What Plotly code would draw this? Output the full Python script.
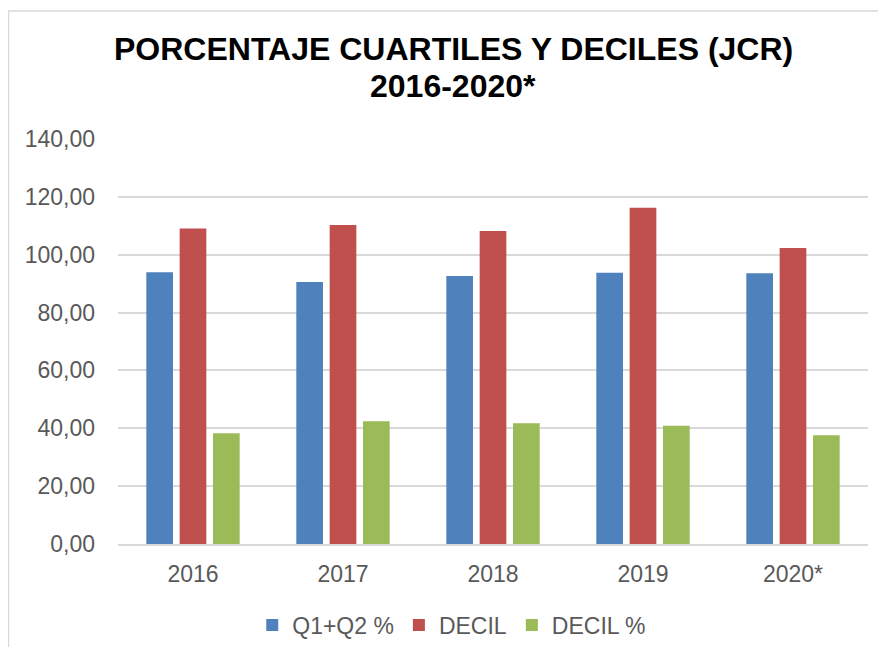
import plotly.graph_objects as go

years = ["2016", "2017", "2018", "2019", "2020*"]
q1q2_pct = [93.9, 90.6, 92.6, 93.8, 93.6]
decil = [109.1, 110.3, 108.2, 116.2, 102.3]
decil_pct = [38.3, 42.4, 41.7, 40.9, 37.6]
series_names = ["Q1+Q2 %", "DECIL", "DECIL %"]
colors = ["#4F81BD", "#C0504D", "#9BBB59"]
y_ticks = [0, 20, 40, 60, 80, 100, 120, 140]
title_lines = ["PORCENTAJE CUARTILES Y DECILES (JCR)", "2016-2020*"]

fig = go.Figure()
for name, vals, col in zip(series_names, [q1q2_pct, decil, decil_pct], colors):
    fig.add_trace(go.Bar(x=years, y=vals, name=name, marker_color=col,
                         marker_line_width=0))

font_family = "Liberation Sans, Arial, sans-serif"
W, H = 870, 639
L, R, T, B = 110, 10, 131, 103
pw, ph = W - L - R, H - T - B

fig.update_layout(
    width=W, height=H,
    margin=dict(l=L, r=R, t=T, b=B, autoexpand=False),
    paper_bgcolor="white", plot_bgcolor="white",
    separators=",.",
    barmode="group", bargap=0.333, bargroupgap=0.2,
    font=dict(family=font_family, size=23, color="#595959"),
    legend=dict(orientation="h", xanchor="center", x=0.445,
                yref="container", yanchor="middle", y=(H - 617) / H,
                font=dict(size=23, color="#595959"), traceorder="normal"),
    showlegend=True,
)
for txt, yc in zip(title_lines, [41, 78]):
    fig.add_annotation(text="<b>" + txt + "</b>", xref="paper", yref="paper",
                       x=(445 - L) / pw, y=(H - B - yc) / ph,
                       xanchor="center", yanchor="middle", showarrow=False,
                       font=dict(family=font_family, size=32, color="black"))

fig.update_yaxes(range=[0, 140], tickvals=y_ticks, tickformat=".2f",
                 showgrid=True, gridcolor="#D9D9D9", gridwidth=1.5,
                 zeroline=False, showline=False, ticks="",
                 ticklabelstandoff=22, automargin=False)
fig.update_xaxes(showline=True, linecolor="#D9D9D9", linewidth=1.5,
                 ticks="", ticklabelstandoff=9, automargin=False)

# outer chart border
fig.add_shape(type="rect", xref="paper", yref="paper",
              x0=(0.5 - L) / pw, x1=(W + 20 - L) / pw,
              y0=(H - B - (H + 20)) / ph, y1=(H - B - 3) / ph,
              line=dict(color="#D9D9D9", width=1.5), fillcolor="rgba(0,0,0,0)",
              layer="below")

fig.write_html("out.html")
